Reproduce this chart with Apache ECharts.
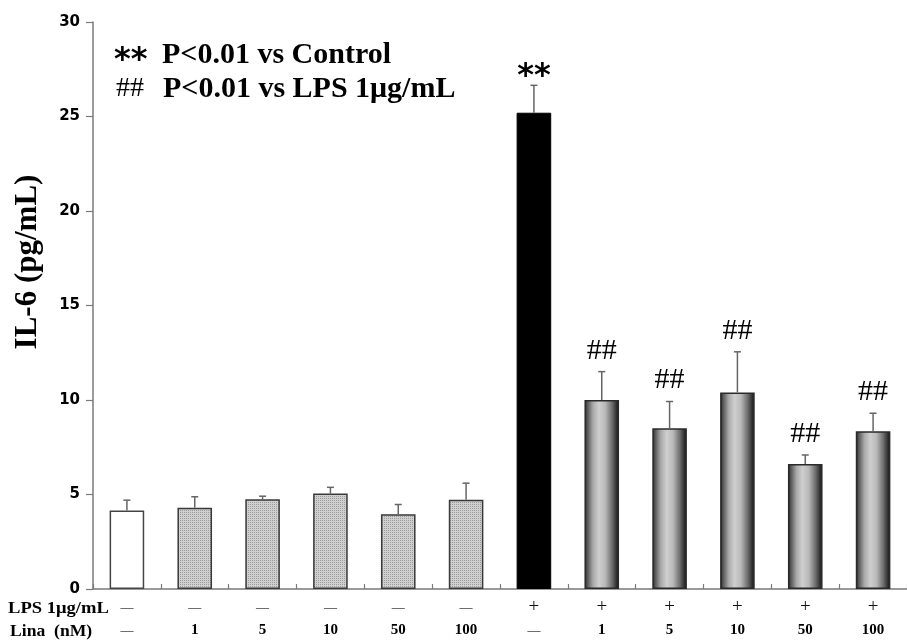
<!DOCTYPE html>
<html>
<head>
<meta charset="utf-8">
<script src="https://cdn.jsdelivr.net/npm/echarts@6/dist/echarts.min.js"></script>
<style>
html,body{margin:0;padding:0;background:#fff;}
#chart{width:907px;height:644px;}
</style>
</head>
<body>
<div id="chart"></div>
<script>
// ---- data ----
var lpsRow  = ['—','—','—','—','—','—','+','+','+','+','+','+'];
var linaRow = ['—','1','5','10','50','100','—','1','5','10','50','100'];
var means   = [4.15, 4.3, 4.75, 5.05, 3.95, 4.72, 25.2, 10.0, 8.5, 10.4, 6.62, 8.35];
var errs    = [0.55, 0.58, 0.16, 0.33, 0.52, 0.88, 1.45, 1.5, 1.42, 2.15, 0.47, 0.95];
var marks   = ['', '', '', '', '', '', '**', '##', '##', '##', '##', '##'];
var groupType = ['control','lina','lina','lina','lina','lina','lps','combo','combo','combo','combo','combo'];
var yTicks = {min: 0, max: 30, interval: 5};

var categories = lpsRow.map(function(v, i){ return String(i); });

// dotted pattern for Lina-only bars
var pc = document.createElement('canvas');
pc.width = 2; pc.height = 2;
var pctx = pc.getContext('2d');
pctx.fillStyle = '#d0d0d0'; pctx.fillRect(0,0,2,2);
pctx.fillStyle = '#9c9c9c'; pctx.fillRect(0,0,1,1);

var gradFill = new echarts.graphic.LinearGradient(0, 0, 1, 0, [
  {offset: 0, color: '#1c1c1c'},
  {offset: 0.08, color: '#555555'},
  {offset: 0.25, color: '#aaaaaa'},
  {offset: 0.42, color: '#cfcfcf'},
  {offset: 0.6, color: '#b9b9b9'},
  {offset: 0.8, color: '#6c6c6c'},
  {offset: 0.94, color: '#2a2a2a'},
  {offset: 1, color: '#161616'}
]);

function styleFor(t){
  if (t === 'control') return {color: '#ffffff', borderColor: '#444', borderWidth: 1.5};
  if (t === 'lina') return {color: {image: pc, repeat: 'repeat'}, borderColor: '#3a3a3a', borderWidth: 1.5};
  if (t === 'lps') return {color: '#000000', borderColor: '#000', borderWidth: 1};
  return {color: gradFill, borderColor: '#2a2a2a', borderWidth: 1.5};
}

var barData = means.map(function(v, i){
  return {value: v, itemStyle: styleFor(groupType[i])};
});
var errData = means.map(function(v, i){ return [i, v, v + errs[i]]; });

var chart = echarts.init(document.getElementById('chart'), null, {renderer: 'canvas'});

chart.setOption({
  animation: false,
  backgroundColor: '#fff',
  grid: {left: 93, right: -9, top: 22, bottom: 55, containLabel: false},
  xAxis: {
    type: 'category',
    data: categories,
    boundaryGap: true,
    axisLine: {lineStyle: {color: '#7a7a7a', width: 1.5}},
    axisTick: {show: true, inside: true, length: 5, alignWithLabel: false, lineStyle: {color: '#7a7a7a', width: 1.2}},
    axisLabel: {
      interval: 0,
      margin: 7,
      formatter: function(v, idx){
        var a = lpsRow[idx] === '+' ? '{p|+}' : '{d|—}';
        var b = linaRow[idx] === '—' ? '{d|—}' : '{n|' + linaRow[idx] + '}';
        return a + '\n' + b;
      },
      rich: {
        p: {fontFamily: 'Liberation Serif', fontSize: 19, color: '#111', lineHeight: 23},
        d: {fontFamily: 'Liberation Serif', fontSize: 13, color: '#111', lineHeight: 23},
        n: {fontFamily: 'Liberation Serif', fontSize: 15, fontWeight: 'bold', color: '#000', lineHeight: 23}
      }
    }
  },
  yAxis: {
    type: 'value',
    min: yTicks.min, max: yTicks.max, interval: yTicks.interval,
    axisLine: {show: true, lineStyle: {color: '#7a7a7a', width: 1.5}},
    axisTick: {show: true, inside: false, length: 7, lineStyle: {color: '#7a7a7a', width: 1.2}},
    splitLine: {show: false},
    axisLabel: {margin: 13, fontFamily: 'DejaVu Sans', fontWeight: 'bold', fontSize: 15, color: '#000'}
  },
  series: [
    {
      type: 'bar',
      data: barData,
      barWidth: '51%',
      z: 2
    },
    {
      type: 'custom',
      z: 3,
      data: errData,
      renderItem: function(params, api){
        var top = api.coord([api.value(0), api.value(2)]);
        var base = api.coord([api.value(0), api.value(1)]);
        var x = top[0];
        var mark = marks[params.dataIndex];
        var children = [
          {type: 'line', shape: {x1: x, y1: base[1], x2: x, y2: top[1]}, style: {stroke: '#666', lineWidth: 1.5}},
          {type: 'line', shape: {x1: x - 3.5, y1: top[1], x2: x + 3.5, y2: top[1]}, style: {stroke: '#666', lineWidth: 1.5}}
        ];
        if (mark === '**') {
          children.push({type: 'text', style: {text: mark, x: x, y: top[1] - 9, align: 'center', verticalAlign: 'middle', font: 'bold 32px "DejaVu Sans"', fill: '#000'}});
        } else if (mark) {
          children.push({type: 'text', style: {text: mark, x: x, y: top[1] - 21, align: 'center', verticalAlign: 'middle', font: '30px "Liberation Serif"', fill: '#000'}});
        }
        return {type: 'group', children: children};
      }
    }
  ],
  graphic: [
    {type: 'text', x: 28, y: 262, rotation: Math.PI / 2,
     style: {text: 'IL-6 (pg/mL)', font: 'bold 31px "Liberation Serif"', fill: '#000', align: 'center', verticalAlign: 'middle'}},
    {type: 'text', x: 114, y: 61, style: {text: '**', font: 'bold 32px "DejaVu Sans"', fill: '#000', align: 'left', verticalAlign: 'middle'}},
    {type: 'text', x: 162, y: 55, style: {text: 'P<0.01 vs Control', font: 'bold 30px "Liberation Serif"', fill: '#000', align: 'left', verticalAlign: 'middle'}},
    {type: 'text', x: 116, y: 89, style: {text: '##', font: '28px "Liberation Serif"', fill: '#000', align: 'left', verticalAlign: 'middle'}},
    {type: 'text', x: 163, y: 89, style: {text: 'P<0.01 vs LPS 1μg/mL', font: 'bold 30px "Liberation Serif"', fill: '#000', align: 'left', verticalAlign: 'middle'}},
    {type: 'text', x: 8, y: 609, scaleX: 1.16, style: {text: 'LPS 1μg/mL', font: 'bold 16px "Liberation Serif"', fill: '#000', align: 'left', verticalAlign: 'middle'}},
    {type: 'text', x: 10, y: 632, scaleX: 1.1, style: {text: 'Lina  (nM)', font: 'bold 16px "Liberation Serif"', fill: '#000', align: 'left', verticalAlign: 'middle'}}
  ]
});
</script>
</body>
</html>
